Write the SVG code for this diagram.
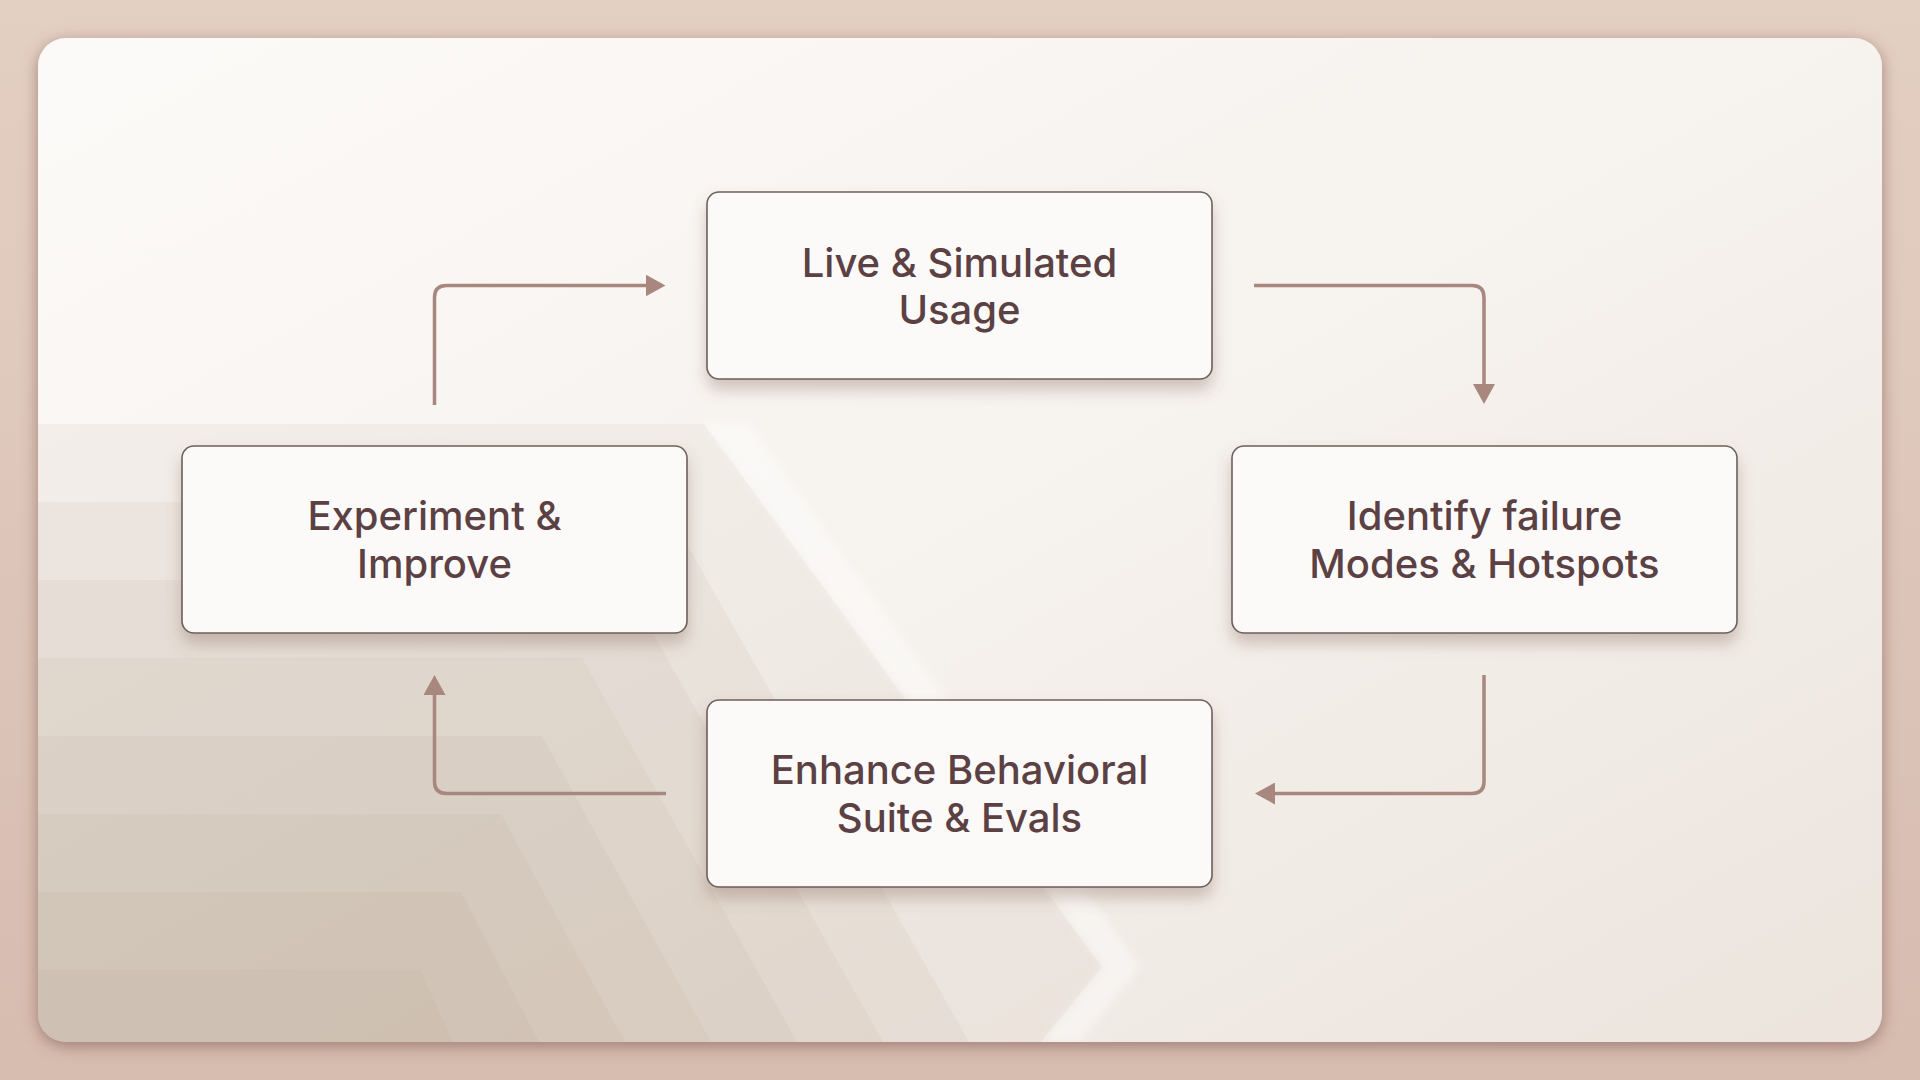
<svg xmlns="http://www.w3.org/2000/svg" width="1920" height="1080" viewBox="0 0 1920 1080">
  <defs>
    <linearGradient id="outerBg" x1="0" y1="0" x2="0" y2="1">
      <stop offset="0" stop-color="#e4cfc3"/>
      <stop offset="1" stop-color="#d7bcb0"/>
    </linearGradient>
    <linearGradient id="cardBg" x1="0" y1="0" x2="1" y2="1">
      <stop offset="0" stop-color="#fcfaf8"/>
      <stop offset="0.5" stop-color="#f6f2ee"/>
      <stop offset="1" stop-color="#ece4dd"/>
    </linearGradient>
    <filter id="cardShadow" x="-5%" y="-5%" width="110%" height="112%">
      <feDropShadow dx="0" dy="4" stdDeviation="8" flood-color="#7a5246" flood-opacity="0.6"/>
    </filter>
    <filter id="boxShadow" x="-10%" y="-20%" width="120%" height="150%">
      <feDropShadow dx="0" dy="10" stdDeviation="8" flood-color="#7a5a4e" flood-opacity="0.32"/>
    </filter>
    <filter id="soft" x="-10%" y="-10%" width="120%" height="120%">
      <feGaussianBlur stdDeviation="5"/>
    </filter>
    <clipPath id="cardClip">
      <rect x="38" y="38" width="1844" height="1004" rx="28"/>
    </clipPath>
    <marker id="arrow" viewBox="0 0 20 22" refX="2" refY="11" markerWidth="20" markerHeight="22" markerUnits="userSpaceOnUse" orient="auto">
      <path d="M0,0 L20,11 L0,22 Z" fill="#a8877f"/>
    </marker>
    <style>
      .box { fill: #fcfaf8; stroke: #6e5f5a; stroke-width: 1.6; filter: url(#boxShadow); }
      .label { font-family: "Inter", "DejaVu Sans", sans-serif; font-weight: 500; font-size: 40px; fill: #5b4143; text-anchor: middle; }
      .conn { fill: none; stroke: #a8877f; stroke-width: 3.5; marker-end: url(#arrow); }
      .band { fill: #b39383; fill-opacity: 0.085; }
    </style>
  </defs>

  <rect x="0" y="0" width="1920" height="1080" fill="url(#outerBg)"/>
  <rect x="38" y="38" width="1844" height="1004" rx="28" fill="url(#cardBg)" filter="url(#cardShadow)"/>

  <g id="background-bands" clip-path="url(#cardClip)">
    <polygon class="band" points="38,424 704,424 1102,967 1041,1042 38,1042"/>
    <polygon class="band" points="38,502 663,502 969,1042 38,1042"/>
    <polygon class="band" points="38,580 623,580 883,1042 38,1042"/>
    <polygon class="band" points="38,658 582,658 797,1042 38,1042"/>
    <polygon class="band" points="38,736 542,736 711,1042 38,1042"/>
    <polygon class="band" points="38,814 501,814 625,1042 38,1042"/>
    <polygon class="band" points="38,892 461,892 539,1042 38,1042"/>
    <polygon class="band" points="38,970 420,970 453,1042 38,1042"/>
    <polygon points="706,424 748,424 1140,967 1080,1042 1043,1042 1104,967" fill="#ffffff" fill-opacity="0.42" filter="url(#soft)"/>
  </g>

  <g id="connectors">
    <path class="conn" d="M434.5,405 V297.5 Q434.5,285.5 446.5,285.5 H647.5"/>
    <path class="conn" d="M1254,285.5 H1472 Q1484,285.5 1484,297.5 V386"/>
    <path class="conn" d="M1484,675 V781.5 Q1484,793.5 1472,793.5 H1273"/>
    <path class="conn" d="M666,793.5 H446.5 Q434.5,793.5 434.5,781.5 V693"/>
  </g>

  <g id="node-live-simulated-usage">
    <rect class="box" x="707" y="192" width="505" height="187" rx="12"/>
    <text class="label" x="959.5" y="276.5">Live &amp; Simulated</text>
    <text class="label" x="959.5" y="324">Usage</text>
  </g>

  <g id="node-identify-failure">
    <rect class="box" x="1232" y="446" width="505" height="187" rx="12"/>
    <text class="label" x="1484.5" y="530">Identify failure</text>
    <text class="label" x="1484.5" y="577.5">Modes &amp; Hotspots</text>
  </g>

  <g id="node-enhance-behavioral">
    <rect class="box" x="707" y="700" width="505" height="187" rx="12"/>
    <text class="label" x="959.5" y="784">Enhance Behavioral</text>
    <text class="label" x="959.5" y="831.5">Suite &amp; Evals</text>
  </g>

  <g id="node-experiment-improve">
    <rect class="box" x="182" y="446" width="505" height="187" rx="12"/>
    <text class="label" x="434.5" y="530">Experiment &amp;</text>
    <text class="label" x="434.5" y="577.5">Improve</text>
  </g>
</svg>
